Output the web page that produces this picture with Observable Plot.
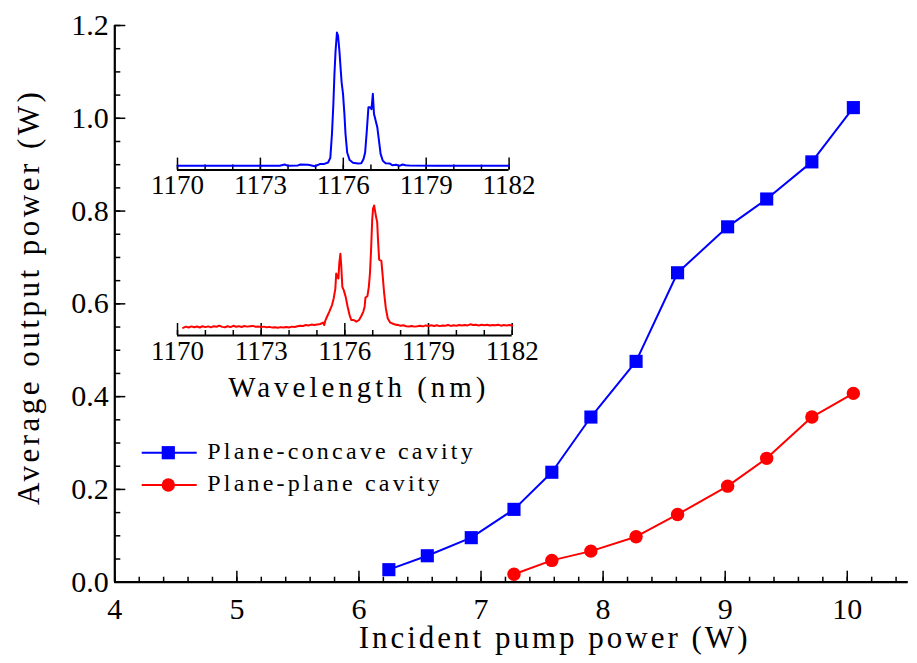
<!DOCTYPE html>
<html><head><meta charset="utf-8">
<script src="https://cdn.jsdelivr.net/npm/d3@7"></script>
<script src="https://cdn.jsdelivr.net/npm/@observablehq/plot@0.6"></script>
<style>
body{margin:0;background:#fff;}
#wrap{position:relative;width:917px;height:663px;overflow:hidden;font-family:"Liberation Serif",serif;}
#wrap svg{position:absolute;overflow:visible;}
</style></head><body><div id="wrap"></div>
<script>
// ---------- main chart data ----------
const seriesNames = ["Plane-concave cavity", "Plane-plane cavity"];
const pumpConcave = [6.245, 6.56, 6.92, 7.27, 7.58, 7.90, 8.27, 8.61, 9.02, 9.34, 9.71, 10.05];
const outConcave  = [0.027, 0.057, 0.096, 0.157, 0.237, 0.356, 0.476, 0.667, 0.766, 0.826, 0.906, 1.023];
const pumpPlane   = [7.27, 7.58, 7.90, 8.27, 8.61, 9.02, 9.34, 9.71, 10.05];
const outPlane    = [0.017, 0.047, 0.067, 0.098, 0.146, 0.207, 0.267, 0.356, 0.407];
const xTicks = [4, 5, 6, 7, 8, 9, 10];
const yTicks = [0, 0.2, 0.4, 0.6, 0.8, 1.0, 1.2];
const xTitle = "Incident pump power (W)";
const yTitle = "Average output power (W)";

// ---------- inset spectra data ----------
const waveTicks = [1170, 1173, 1176, 1179, 1182];
const waveTitle = "Wavelength (nm)";
const blueWave = [1170.00,1171.54,1173.70,1173.88,1174.00,1174.36,1174.45,1174.73,1174.85,1174.97,1175.15,1175.29,1175.45,1175.53,1175.59,1175.64,1175.68,1175.72,1175.77,1175.81,1175.86,1175.91,1175.94,1175.99,1176.04,1176.08,1176.14,1176.23,1176.35,1176.53,1176.65,1176.73,1176.79,1176.85,1176.91,1176.96,1177.02,1177.07,1177.11,1177.17,1177.23,1177.29,1177.35,1177.43,1177.53,1177.67,1177.77,1177.91,1178.03,1178.15,1178.25,1178.39,1179.35,1182.00];
const blueInt  = [0,0,0,0.01,0,0.003,0.01,0.008,0.003,-0.003,0.013,0.013,0.025,0.06,0.24,0.46,0.69,0.86,1.0,0.975,0.86,0.71,0.625,0.54,0.39,0.24,0.10,0.043,0.023,0.018,0.02,0.05,0.10,0.26,0.44,0.44,0.425,0.54,0.39,0.34,0.29,0.19,0.09,0.038,0.02,0.018,0.005,0.008,0,0.01,0.005,0.003,0,0];
const redWave = [1170.2,1170.3,1170.4,1170.5,1170.6,1170.7,1170.8,1170.9,1171.0,1171.1,1171.2,1171.3,1171.4,1171.5,1171.6,1171.7,1171.8,1171.9,1172.0,1172.1,1172.2,1172.3,1172.4,1172.5,1172.6,1172.7,1172.8,1172.9,1173.0,1173.1,1173.2,1173.3,1173.4,1173.5,1173.6,1173.7,1173.8,1173.9,1174.0,1174.1,1174.2,1174.3,1174.4,1174.5,1174.6,1174.7,1174.8,1174.9,1175.12,1175.22,1175.26,
 1175.30,1175.36,1175.44,1175.54,1175.60,1175.66,1175.69,1175.73,1175.77,1175.80,1175.84,1175.87,1175.91,1175.96,1176.03,1176.10,1176.17,1176.23,1176.32,1176.41,1176.51,1176.59,1176.66,1176.71,1176.74,1176.81,1176.86,1176.90,1176.94,1176.98,1177.01,1177.05,1177.08,1177.12,1177.16,1177.19,1177.23,1177.31,1177.36,1177.41,1177.47,1177.54,1177.63,1177.75,1177.87,
 1177.9,1178.0,1178.1,1178.2,1178.3,1178.4,1178.5,1178.6,1178.7,1178.8,1178.9,1179.0,1179.1,1179.2,1179.3,1179.4,1179.5,1179.6,1179.7,1179.8,1179.9,1180.0,1180.1,1180.2,1180.3,1180.4,1180.5,1180.6,1180.7,1180.8,1180.9,1181.0,1181.1,1181.2,1181.3,1181.4,1181.5,1181.6,1181.7,1181.8,1181.9,1182.0];
const redInt = [-0.015,-0.005,-0.012,-0.003,-0.010,-0.004,-0.012,-0.002,-0.009,-0.003,-0.011,-0.001,-0.006,0.003,-0.007,-0.010,-0.002,-0.009,0.002,-0.006,-0.001,-0.008,0.001,-0.005,-0.002,0.001,-0.006,-0.004,-0.009,-0.005,-0.011,-0.007,-0.013,-0.010,-0.015,-0.009,-0.013,-0.008,-0.012,-0.005,-0.008,-0.002,0.003,0.000,0.008,0.004,0.012,0.008,0.017,0.028,0.008,
 0.044,0.077,0.118,0.174,0.229,0.311,0.435,0.408,0.394,0.518,0.60,0.504,0.325,0.298,0.242,0.160,0.091,0.050,0.050,0.036,0.050,0.083,0.118,0.160,0.237,0.248,0.325,0.435,0.628,0.876,0.972,1.0,0.959,0.904,0.862,0.711,0.551,0.540,0.408,0.270,0.146,0.063,0.028,0.017,0.008,
 0.010,0.002,0.006,-0.002,-0.004,0.001,-0.005,-0.002,0.003,-0.003,0.005,0.000,0.007,0.001,0.006,-0.001,0.005,0.002,0.008,0.001,0.006,0.003,0.008,0.004,0.009,0.005,0.014,0.008,0.011,0.005,0.010,0.006,0.011,0.004,0.009,0.006,0.011,0.003,0.009,0.005,0.008,0.004];

const BLUE = "#0000ff", RED = "#ff0000";
const FONT = '"Liberation Serif", "Times New Roman", serif';

const concave = pumpConcave.map((x, i) => ({x, y: outConcave[i]}));
const plane = pumpPlane.map((x, i) => ({x, y: outPlane[i]}));
const fmt1 = d3.format(".1f");

const wrap = document.getElementById("wrap");

function spaceText(svg, content, spacing) {
  d3.select(svg).selectAll("text").filter(function () { return this.textContent === content; })
    .style("letter-spacing", spacing + "px");
}

// ---------- main plot ----------
const xMinor = d3.range(40, 106, 2).map(d => d / 10);
const yMinor = d3.range(0, 121, 5).map(d => d / 100);
const main = Plot.plot({
  width: 917, height: 663,
  marginLeft: 114.3, marginRight: 9.2, marginTop: 25, marginBottom: 81.3,
  style: {fontFamily: FONT, fontSize: "30px", background: "transparent", color: "black"},
  x: {domain: [4, 10.5], label: null},
  y: {domain: [0, 1.2], label: null},
  marks: [
    Plot.axisX({ticks: xMinor, tickSize: -5, tickFormat: () => "", strokeWidth: 1.5, label: null}),
    Plot.axisX({ticks: xTicks, tickSize: -11, tickPadding: 26, tickFormat: d => String(d), strokeWidth: 1.5, label: null}),
    Plot.axisY({ticks: yMinor, tickSize: -6, tickFormat: () => "", strokeWidth: 1.5, label: null}),
    Plot.axisY({ticks: yTicks, tickSize: -11, tickPadding: 17, tickFormat: fmt1, strokeWidth: 1.5, label: null}),
    Plot.ruleY([0], {stroke: "black", strokeWidth: 2.2}),
    Plot.ruleX([4], {stroke: "black", strokeWidth: 2.2}),
    Plot.line(concave, {x: "x", y: "y", stroke: BLUE, strokeWidth: 2}),
    Plot.dot(concave, {x: "x", y: "y", symbol: "square", r: 7.4, fill: BLUE, stroke: "none"}),
    Plot.line(plane, {x: "x", y: "y", stroke: RED, strokeWidth: 2}),
    Plot.dot(plane, {x: "x", y: "y", symbol: "circle", r: 6.7, fill: RED, stroke: "none"}),
    Plot.text([xTitle], {frameAnchor: "bottom", dy: 56, dx: 43, fontSize: 31, textAnchor: "middle", lineAnchor: "middle"}),
    Plot.text([yTitle], {frameAnchor: "left", dx: -86, dy: -7, rotate: -90, fontSize: 31, textAnchor: "middle", lineAnchor: "middle"})
  ]
});
main.style.left = "0px"; main.style.top = "0px";
spaceText(main, xTitle, 3);
spaceText(main, yTitle, 3.5);
wrap.appendChild(main);

// ---------- insets ----------
function inset({wave, inten, color, left, top, width, height, mT, mB, yMin, title}) {
  const data = wave.map((w, i) => ({w, v: inten[i]}));
  const marks = [
    Plot.axisX({ticks: d3.range(1170, 1183, 1), tickSize: -5, tickFormat: () => "", strokeWidth: 1.5, label: null}),
    Plot.axisX({ticks: waveTicks, tickSize: -12, tickPadding: 17, tickFormat: d => String(d), strokeWidth: 1.5, label: null}),
    Plot.ruleY([yMin], {stroke: "black", strokeWidth: 2}),
    Plot.line(data, {x: "w", y: "v", stroke: color, strokeWidth: 2})
  ];
  if (title) marks.push(Plot.text([title], {frameAnchor: "bottom", dy: 52, dx: 14, fontSize: 29, textAnchor: "middle", lineAnchor: "middle"}));
  const p = Plot.plot({
    width, height, marginLeft: 40, marginRight: 40, marginTop: mT, marginBottom: mB,
    style: {fontFamily: FONT, fontSize: "27px", background: "transparent", color: "black"},
    x: {domain: [1170, 1182], label: null},
    y: {domain: [yMin, 1], label: null, axis: null},
    marks
  });
  p.style.left = left + "px"; p.style.top = top + "px";
  if (title) spaceText(p, title, 4);
  wrap.appendChild(p);
}
inset({wave: blueWave, inten: blueInt, color: BLUE, left: 136.7, top: 21.7, width: 411.6, height: 192.6, mT: 10, mB: 45, yMin: -0.032});
inset({wave: redWave, inten: redInt, color: RED, left: 137, top: 195, width: 414.7, height: 215, mT: 10, mB: 75, yMin: -0.0785, title: waveTitle});

// ---------- legend ----------
const leg = d3.select(wrap).append("svg").attr("width", 400).attr("height", 80)
  .style("left", "130px").style("top", "430px");
const items = [
  {name: seriesNames[0], color: BLUE, sym: "square", y: 22.7},
  {name: seriesNames[1], color: RED, sym: "circle", y: 55}
];
items.forEach(it => {
  leg.append("line").attr("x1", 11.7).attr("x2", 66.7).attr("y1", it.y).attr("y2", it.y).attr("stroke", it.color).attr("stroke-width", 2);
  if (it.sym === "square") leg.append("rect").attr("x", 38.3 - 6.6).attr("y", it.y - 6.6).attr("width", 13.2).attr("height", 13.2).attr("fill", it.color);
  else leg.append("circle").attr("cx", 38.3).attr("cy", it.y).attr("r", 6.7).attr("fill", it.color);
  leg.append("text").attr("x", 77.3).attr("y", it.y + 6).attr("font-family", FONT).attr("font-size", 24)
    .style("letter-spacing", "3.2px").attr("fill", "black").text(it.name);
});
</script>
</body></html>
